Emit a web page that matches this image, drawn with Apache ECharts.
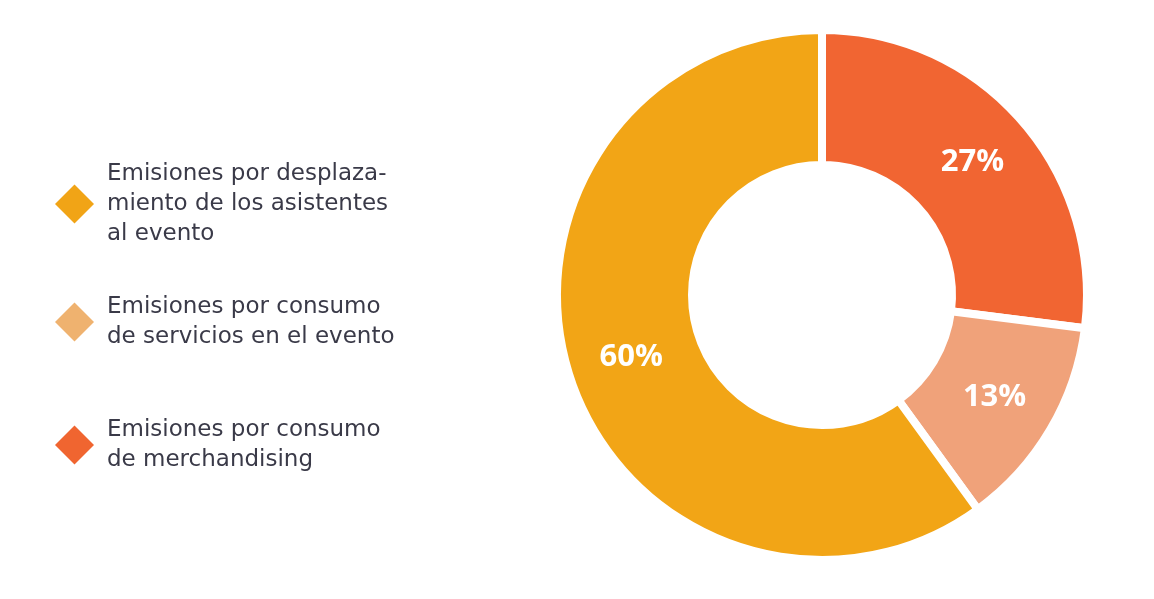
<!DOCTYPE html>
<html><head><meta charset="utf-8">
<script src="https://cdn.jsdelivr.net/npm/echarts@6/dist/echarts.min.js"></script>
<style>html,body{margin:0;padding:0;background:#fff}#c{width:1154px;height:599px}</style>
</head><body><div id="c"></div>
<script>
const categories = [
  "Emisiones por consumo\nde merchandising",
  "Emisiones por consumo\nde servicios en el evento",
  "Emisiones por desplaza-\nmiento de los asistentes\nal evento"
];
const values = [27, 13, 60];
const sliceColors = ["#F16532", "#F0A27A", "#F2A516"];
const legendColors = ["#F06530", "#EFB26F", "#F1A416"];

const chart = echarts.init(document.getElementById('c'));
const legendTops = [159, 292, 415];
const legendOrder = [2, 1, 0];
const legends = legendOrder.map((idx, i) => ({
  orient: 'vertical',
  left: 55,
  top: legendTops[i],
  padding: 0,
  icon: 'diamond',
  itemWidth: 39,
  itemHeight: 39,
  itemGap: 0,
  selectedMode: false,
  itemStyle: { borderWidth: 0 },
  textStyle: {
    fontFamily: 'DejaVu Sans',
    fontSize: 23,
    color: '#3a3a48',
    lineHeight: 30,
    padding: [0, 0, 0, 8]
  },
  data: [{ name: categories[idx], itemStyle: { color: legendColors[idx] } }]
}));

chart.setOption({
  animation: false,
  legend: legends,
  series: [{
    type: 'pie',
    center: [822, 295],
    radius: [130, 265],
    startAngle: 90,
    clockwise: true,
    avoidLabelOverlap: false,
    itemStyle: { borderColor: '#ffffff', borderWidth: 8 },
    label: {
      position: 'inside',
      formatter: '{c}%',
      color: '#ffffff',
      fontFamily: 'Open Sans',
      fontWeight: 'bold',
      fontSize: 31
    },
    labelLine: { show: false },
    emphasis: { disabled: true },
    data: categories.map((n, i) => ({ name: n, value: values[i], itemStyle: { color: sliceColors[i] } }))
  }]
});
</script></body></html>
